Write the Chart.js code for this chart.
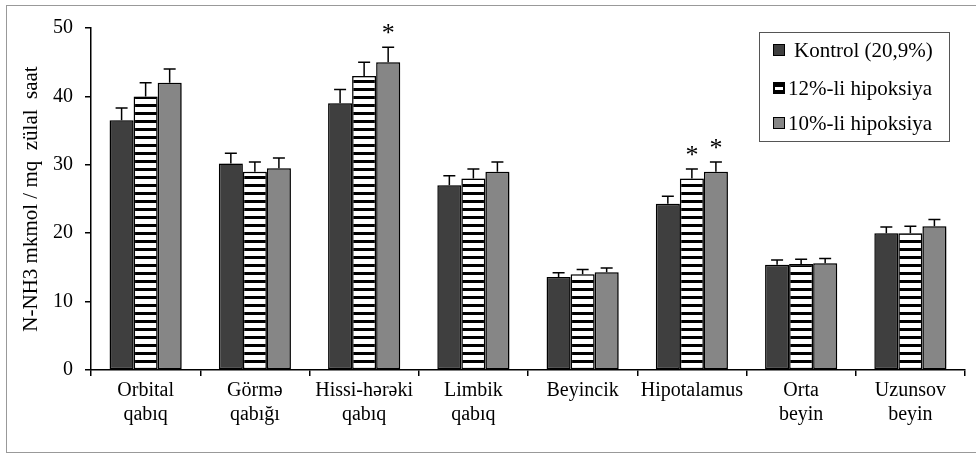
<!DOCTYPE html>
<html>
<head>
<meta charset="utf-8">
<script src="https://cdn.jsdelivr.net/npm/chart.js@4.4.0/dist/chart.umd.min.js"></script>
<style>
  body { margin: 0; background: #fff; }
  #wrap { position: relative; width: 976px; height: 455px; }
  #frame { position: absolute; left: 6px; top: 5px; width: 975px; height: 446px; border: 1px solid #999; border-right: none; }
</style>
</head>
<body>
<div id="wrap">
  <div id="frame"></div>
  <canvas id="chart" width="976" height="455"></canvas>
</div>
<script>
const categories = [['Orbital', 'qabıq'], ['Görmə', 'qabığı'], ['Hissi-hərəki', 'qabıq'], ['Limbik', 'qabıq'],
  'Beyincik', 'Hipotalamus', ['Orta', 'beyin'], ['Uzunsov', 'beyin']];
const seriesNames = ['Kontrol (20,9%)', '12%-li hipoksiya', '10%-li hipoksiya'];

const kontrol    = [36.5, 30.2, 39.0, 27.0, 13.6, 24.3, 15.4, 20.0];
const kontrolErr = [1.8, 1.5, 2.0, 1.4, 0.6, 1.1, 0.7, 0.9];
const hip12      = [40.0, 29.0, 43.0, 28.0, 14.0, 28.0, 15.5, 20.0];
const hip12Err   = [2.0, 1.4, 2.0, 1.4, 0.7, 1.4, 0.7, 1.0];
const hip10      = [42.0, 29.5, 45.0, 29.0, 14.3, 29.0, 15.6, 21.0];
const hip10Err   = [2.0, 1.5, 2.2, 1.4, 0.6, 1.4, 0.7, 1.0];
// significance marks (*)
const kontrolSig = [0, 0, 0, 0, 0, 0, 0, 0];
const hip12Sig   = [0, 0, 0, 0, 0, 1, 0, 0];
const hip10Sig   = [0, 0, 1, 0, 0, 1, 0, 0];

const yTicks = [0, 10, 20, 30, 40, 50];
const yTitle = 'N-NH3 mkmol / mq  zülal  saat';

const FONT = '"Liberation Serif", "Times New Roman", serif';
const DARK = '#3f3f3f';
const GRAY = '#868686';

function stripes() {
  const c = document.createElement('canvas');
  c.width = 8; c.height = 8;
  const g = c.getContext('2d');
  g.fillStyle = '#fff'; g.fillRect(0, 0, 8, 8);
  g.fillStyle = '#000'; g.fillRect(0, 0, 8, 3);
  return g.createPattern(c, 'repeat');
}

const errors = [kontrolErr, hip12Err, hip10Err];
const sigs = [kontrolSig, hip12Sig, hip10Sig];

// soft drop shadow under bars
const shadowPlugin = {
  id: 'shadow',
  beforeDatasetsDraw(chart) {
    const ctx = chart.ctx;
    ctx.save();
    ctx.shadowColor = 'rgba(0,0,0,0.35)';
    ctx.shadowBlur = 6;
    ctx.shadowOffsetX = 3;
    ctx.shadowOffsetY = 0;
  },
  afterDatasetsDraw(chart) {
    chart.ctx.restore();
  }
};

// upper error bars + asterisks
const errorPlugin = {
  id: 'errbars',
  afterDatasetsDraw(chart) {
    const ctx = chart.ctx;
    const y = chart.scales.y;
    ctx.save();
    ctx.strokeStyle = '#000';
    ctx.lineWidth = 1.5;
    chart.data.datasets.forEach((ds, di) => {
      const meta = chart.getDatasetMeta(di);
      meta.data.forEach((bar, i) => {
        const top = y.getPixelForValue(ds.data[i] + errors[di][i]);
        ctx.beginPath();
        ctx.moveTo(bar.x, bar.y);
        ctx.lineTo(bar.x, top);
        ctx.moveTo(bar.x - 6, top);
        ctx.lineTo(bar.x + 6, top);
        ctx.stroke();
        if (sigs[di][i]) {
          ctx.fillStyle = '#000';
          ctx.font = '26px ' + FONT;
          ctx.textAlign = 'center';
          ctx.textBaseline = 'middle';
          ctx.fillText('*', bar.x, top - 13);
        }
      });
    });
    ctx.restore();
  }
};

// boxed legend in the top right of the plot
const legendPlugin = {
  id: 'boxLegend',
  afterDraw(chart) {
    const ctx = chart.ctx;
    const area = chart.chartArea;
    const bx = area.right - 206, by = area.top + 4, bw = 190, bh = 109;
    ctx.save();
    ctx.fillStyle = '#fff';
    ctx.fillRect(bx, by, bw, bh);
    ctx.strokeStyle = '#555';
    ctx.lineWidth = 1;
    ctx.strokeRect(bx + 0.5, by + 0.5, bw, bh);
    ctx.font = '21px ' + FONT;
    ctx.textBaseline = 'middle';
    ctx.textAlign = 'left';
    const rows = [18, 56, 91];
    chart.data.datasets.forEach((ds, i) => {
      const mx = bx + 14, my = by + rows[i] - 6;
      if (i === 1) {
        ctx.fillStyle = '#000';
        ctx.fillRect(mx, my, 12, 12);
        ctx.fillStyle = '#fff';
        ctx.fillRect(mx + 2, my + 5, 8, 3);
      } else {
        ctx.fillStyle = i === 0 ? DARK : GRAY;
        ctx.fillRect(mx, my, 12, 12);
        ctx.strokeStyle = '#000';
        ctx.strokeRect(mx + 0.5, my + 0.5, 11, 11);
      }
      ctx.fillStyle = '#000';
      ctx.fillText(ds.label, mx + (i === 0 ? 21 : 15), by + rows[i] + 1);
    });
    ctx.restore();
  }
};

const datasets = [
  { label: seriesNames[0], data: kontrol, backgroundColor: DARK },
  { label: seriesNames[1], data: hip12, backgroundColor: stripes() },
  { label: seriesNames[2], data: hip10, backgroundColor: GRAY },
].map(d => Object.assign(d, {
  borderColor: '#000', borderWidth: 1.5, borderSkipped: false,
  categoryPercentage: 0.66, barPercentage: 1.0
}));

new Chart(document.getElementById('chart'), {
  type: 'bar',
  data: { labels: categories, datasets },
  options: {
    responsive: false,
    animation: false,
    layout: { padding: { top: 28, right: 11, left: 0, bottom: 0 } },
    plugins: { legend: { display: false }, tooltip: { enabled: false } },
    scales: {
      x: {
        grid: { drawOnChartArea: false, drawTicks: true, tickLength: 6, color: '#000', lineWidth: 1.5 },
        border: { display: true, color: '#000', width: 1.5 },
        ticks: { color: '#000', padding: 3, maxRotation: 0, autoSkip: false, font: { family: FONT, size: 20 }, },
        afterFit(s) { s.height = 85; }
      },
      y: {
        min: 0, max: 50,
        afterBuildTicks(s) { s.ticks = yTicks.map(v => ({ value: v })); },
        grid: { drawOnChartArea: false, drawTicks: true, tickLength: 6, color: '#000', lineWidth: 1.5 },
        border: { display: true, color: '#000', width: 1.5 },
        ticks: { color: '#000', padding: 12, font: { family: FONT, size: 20 } },
        title: { display: true, text: yTitle, color: '#000', padding: { top: 19, bottom: 0 }, font: { family: FONT, size: 21 } },
        afterFit(s) { s.width = 91; }
      }
    }
  },
  plugins: [shadowPlugin, errorPlugin, legendPlugin]
});
</script>
</body>
</html>
